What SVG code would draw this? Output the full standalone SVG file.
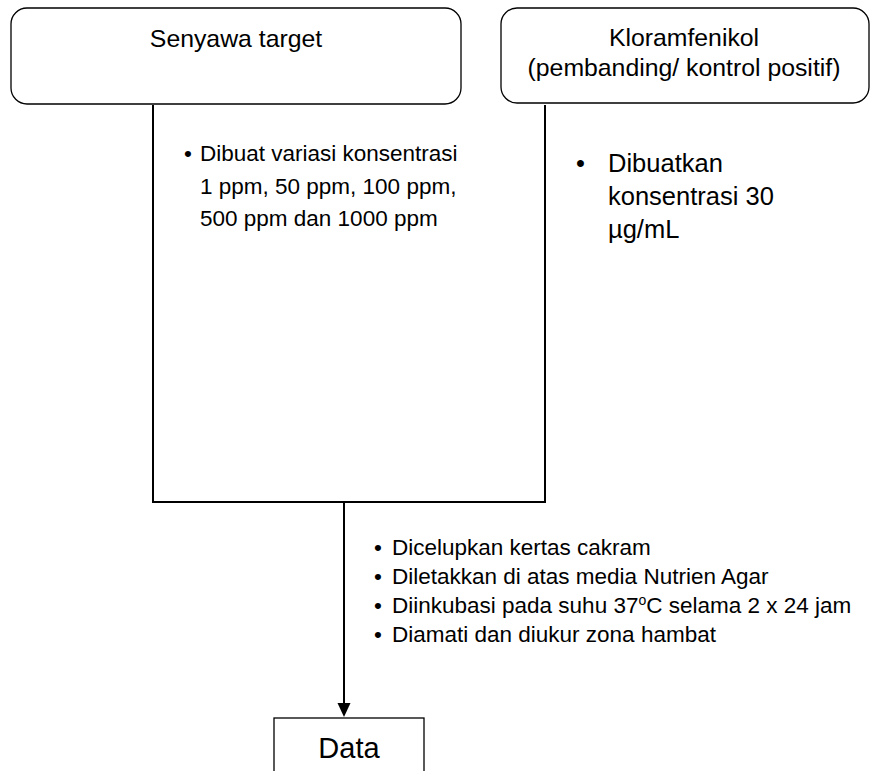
<svg xmlns="http://www.w3.org/2000/svg" width="871" height="771" viewBox="0 0 871 771">
<style>
  .box{fill:#fff;stroke:#000;stroke-width:1.3}
  .ln{fill:none;stroke:#000;stroke-width:2}
  text{font-family:"Liberation Sans",Arial,sans-serif;fill:#000}
  .lbl{font-size:24.8px;text-anchor:middle}
  .b{font-size:22.5px}
  .r{font-size:25.5px}
</style>
<rect width="871" height="771" fill="#fff"/>
<g id="connectors">
  <polyline class="ln" points="153,105 153,502 545,502 545,105"/>
  <line class="ln" x1="344" y1="502" x2="344" y2="704"/>
  <path d="M337.5,703 L350.5,703 L344,717 Z" fill="#000"/>
</g>
<g id="node-senyawa">
  <rect class="box" x="11" y="8" width="450" height="96" rx="16"/>
  <text class="lbl" x="236" y="47">Senyawa target</text>
</g>
<g id="node-kloramfenikol">
  <rect class="box" x="501" y="8" width="368" height="95" rx="16"/>
  <text class="lbl" x="684" y="46">Kloramfenikol</text>
  <text class="lbl" x="684" y="76">(pembanding/ kontrol positif)</text>
</g>
<g id="note-senyawa" class="b">
  <text x="184" y="161">•</text>
  <text x="200" y="161">Dibuat variasi konsentrasi</text>
  <text x="200" y="194">1 ppm, 50 ppm, 100 ppm,</text>
  <text x="200" y="226">500 ppm dan 1000 ppm</text>
</g>
<g id="note-kloramfenikol" class="r">
  <text x="576" y="172">•</text>
  <text x="608" y="172">Dibuatkan</text>
  <text x="608" y="205">konsentrasi 30</text>
  <text x="608" y="238">µg/mL</text>
</g>
<g id="note-process" class="b">
  <text x="374" y="555">•</text>
  <text x="392" y="555">Dicelupkan kertas cakram</text>
  <text x="374" y="584">•</text>
  <text x="392" y="584">Diletakkan di atas media Nutrien Agar</text>
  <text x="374" y="613">•</text>
  <text x="392" y="613">Diinkubasi pada suhu 37<tspan font-size="14" dy="-8">o</tspan><tspan dy="8">C selama 2 x 24 jam</tspan></text>
  <text x="374" y="642">•</text>
  <text x="392" y="642">Diamati dan diukur zona hambat</text>
</g>
<g id="node-data">
  <rect class="box" x="274" y="718" width="150" height="80"/>
  <text x="349" y="758" font-size="29" text-anchor="middle">Data</text>
</g>
</svg>
